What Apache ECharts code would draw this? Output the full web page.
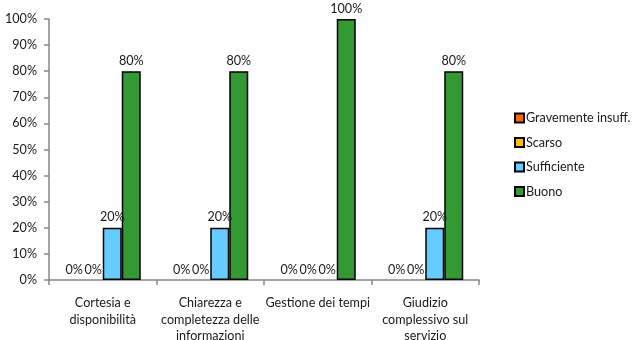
<!DOCTYPE html>
<html>
<head>
<meta charset="utf-8">
<script src="https://cdn.jsdelivr.net/npm/echarts@6/dist/echarts.min.js"></script>
<style>html,body{margin:0;padding:0;background:#fff}#c{width:634px;height:340px}</style>
</head>
<body>
<div id="c"></div>
<script>
const categories = ["Cortesia e\ndisponibilità", "Chiarezza e\ncompletezza delle\ninformazioni", "Gestione dei tempi", "Giudizio\ncomplessivo sul\nservizio"];
const seriesNames = ["Gravemente insuff.", "Scarso", "Sufficiente", "Buono"];
const gravemente = [0, 0, 0, 0];
const scarso = [0, 0, 0, 0];
const sufficiente = [20, 20, 0, 20];
const buono = [80, 80, 100, 80];
const colors = ["#FF6600", "#FFC000", "#66CCFF", "#339933"];

const font = "Lato, 'Open Sans', sans-serif";
const textColor = "#1a1a1a";
const fs = 12.6;
const dataSets = [gravemente, scarso, sufficiente, buono];

const chart = echarts.init(document.getElementById('c'), null, {renderer: 'canvas'});
chart.setOption({
  animation: false,
  textStyle: {fontFamily: font, color: textColor},
  grid: {left: 49, right: 155, top: 19, bottom: 60, containLabel: false, outerBoundsMode: 'none'},
  legend: {
    orient: 'vertical', left: 509, top: 106,
    itemWidth: 9, itemHeight: 9, itemGap: 10.5,
    icon: 'rect',
    textStyle: {fontFamily: font, fontSize: fs, color: textColor, padding: [0, 0, 0, -3], lineHeight: 14},
    data: seriesNames
  },
  xAxis: {
    type: 'category', data: categories,
    axisLine: {lineStyle: {color: '#868686', width: 1.5}},
    axisTick: {show: true, length: 5, interval: 0, lineStyle: {color: '#868686', width: 1.5}},
    axisLabel: {interval: 0, margin: 15, fontFamily: font, fontSize: fs, color: textColor, lineHeight: 16.5}
  },
  yAxis: {
    type: 'value', min: 0, max: 100, interval: 10,
    axisLine: {show: true, lineStyle: {color: '#868686', width: 1.5}},
    axisTick: {show: true, length: 5, lineStyle: {color: '#868686', width: 1.5}},
    splitLine: {show: false},
    axisLabel: {formatter: '{value}%', margin: 12, fontFamily: font, fontSize: fs, color: textColor}
  },
  series: seriesNames.map((n, i) => ({
    name: n, type: 'bar',
    data: dataSets[i].map(v => v === 0 ? {value: v, itemStyle: {borderWidth: 0}} : v),
    barWidth: 19, barGap: '0%',
    itemStyle: {color: colors[i], borderColor: '#000', borderWidth: 1.5},
    label: {show: true, position: 'top', distance: 4, formatter: '{c}%', fontFamily: font, fontSize: fs, color: textColor}
  }))
});
</script>
</body>
</html>
